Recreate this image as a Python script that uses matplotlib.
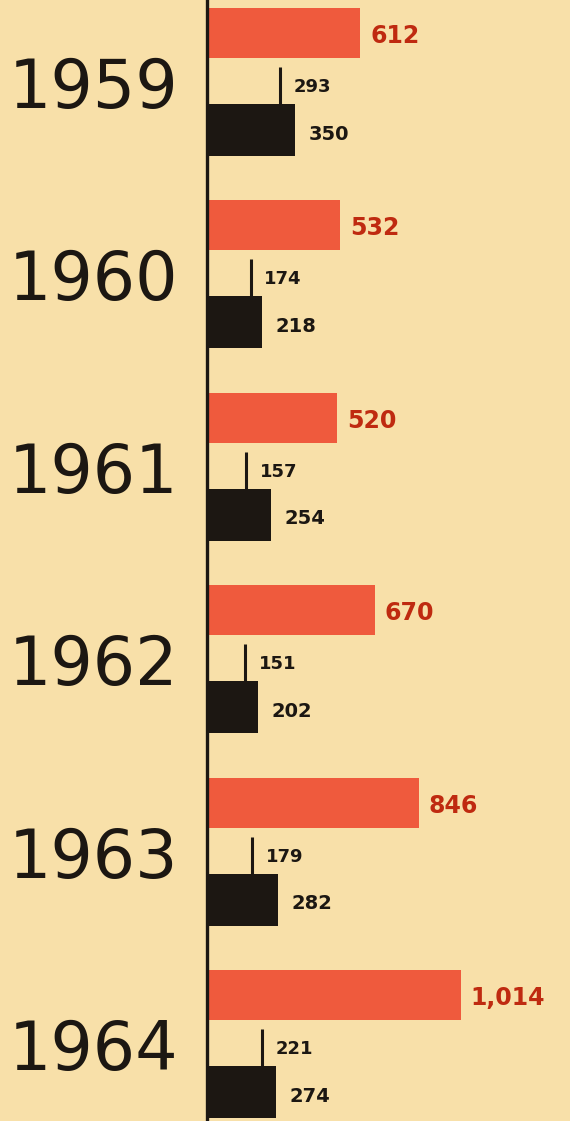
import matplotlib.pyplot as plt
import numpy as np

# Values per year: red bar, thin marker line, black bar
years = ['1959', '1960', '1961', '1962', '1963', '1964']
red_values = [612, 532, 520, 670, 846, 1014]
tick_values = [293, 174, 157, 151, 179, 221]
black_values = [350, 218, 254, 202, 282, 274]

paper = '#f8e0a9'
red = '#ef5a3d'
red_text = '#bf2a10'
ink = '#1c1712'

W, H = 570, 1121
fig = plt.figure(figsize=(W / 100, H / 100), dpi=100, facecolor=paper)
ax = fig.add_axes([0, 0, 1, 1])
ax.set_facecolor(paper)

# 0.25 px per unit, axis line sits 207 px from the left edge
scale = 0.25
ax.set_xlim(-207 / scale, (W - 207) / scale)
ax.set_ylim(H, 0)
ax.axis('off')

step = 192.4
bar_h = 50
for i, year in enumerate(years):
    y_red = 33 + step * i
    y_black = y_red + 97

    ax.barh(y_red, red_values[i], height=bar_h, color=red, left=0)
    ax.barh(y_black, black_values[i], height=bar_h + 2, color=ink, left=0)
    # thin marker line between the two bars
    ax.plot([tick_values[i], tick_values[i]],
            [y_red + bar_h / 2 + 9, y_black - bar_h / 2],
            color=ink, lw=2.2, solid_capstyle='butt')

    ax.text(red_values[i] + 40, y_red + 3, f'{red_values[i]:,}',
            color=red_text, fontsize=17, fontweight='bold',
            va='center', ha='left')
    ax.text(tick_values[i] + 55, y_red + 54, str(tick_values[i]),
            color=ink, fontsize=13, fontweight='bold',
            va='center', ha='left')
    ax.text(black_values[i] + 55, y_black + 4, str(black_values[i]),
            color=ink, fontsize=14, fontweight='bold',
            va='center', ha='left')

    ax.text(-795, y_red + 56, year, color=ink, fontsize=48,
            fontfamily='DejaVu Sans', va='center', ha='left')

ax.axvline(0, color=ink, lw=2.4)

fig.savefig('out.png', dpi=100, facecolor=paper)
